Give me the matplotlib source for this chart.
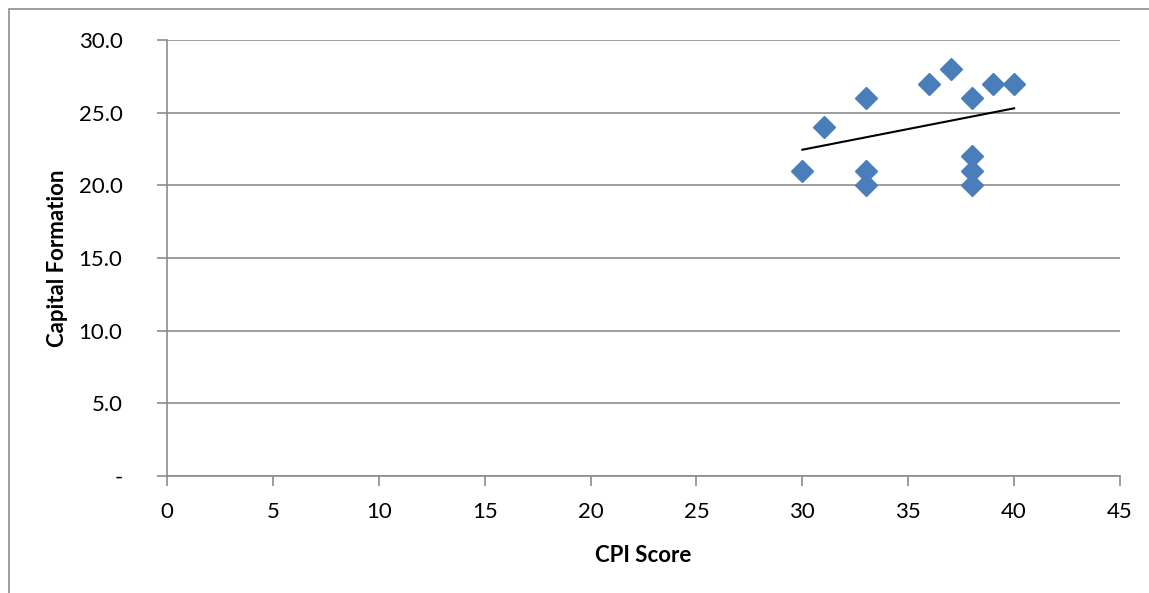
import matplotlib.pyplot as plt
from matplotlib.patches import Rectangle

# data
cpi = [30, 31, 33, 33, 33, 36, 37, 38, 38, 38, 38, 39, 40]
capital = [21, 24, 26, 21, 20, 27, 28, 26, 22, 21, 20, 27, 27]
# linear trendline endpoints as drawn
trend_x = [30, 40]
trend_y = [22.45, 25.3]

x_ticks = [0, 5, 10, 15, 20, 25, 30, 35, 40, 45]
y_ticks = [0, 5, 10, 15, 20, 25, 30]
y_labels = ['-', '5.0', '10.0', '15.0', '20.0', '25.0', '30.0']

plt.rcParams['font.family'] = ['Lato', 'DejaVu Sans']

fig = plt.figure(figsize=(11.49, 5.93), dpi=100)
fig.patches.append(Rectangle((9/1149, -0.1), 1.2, 1 - 9/593 + 0.1, transform=fig.transFigure,
                             fill=False, edgecolor='#8c8c8c', linewidth=1.2))
ax = fig.add_axes([167/1149, 1 - 476/593, (1120-167)/1149, (476-40)/593])

ax.plot(cpi, capital, linestyle='none', marker='D', markersize=11.5,
        color='#4a7ebb', zorder=3)
ax.plot(trend_x, trend_y, color='black', linewidth=1.5, zorder=4)

ax.set_xlim(0, 45)
ax.set_ylim(0, 30)
ax.set_xticks(x_ticks)
ax.set_yticks(y_ticks)
ax.set_yticklabels(y_labels)
ax.grid(axis='y', color='#8c8c8c', linewidth=1.2)
ax.set_axisbelow(True)
for s in ['top', 'right']:
    ax.spines[s].set_visible(False)
for s in ['left', 'bottom']:
    ax.spines[s].set_color('#8c8c8c')
    ax.spines[s].set_linewidth(1.2)
ax.tick_params(direction='out', length=7, width=1.2, color='#8c8c8c',
               labelsize=16)
ax.tick_params(axis='y', pad=25)
ax.tick_params(axis='x', pad=12)
ax.set_xlabel('CPI Score', fontsize=16, fontweight='bold', labelpad=16)
ax.set_ylabel('Capital Formation', fontsize=16, fontweight='bold', labelpad=8)

fig.savefig('out.png', dpi=100)
